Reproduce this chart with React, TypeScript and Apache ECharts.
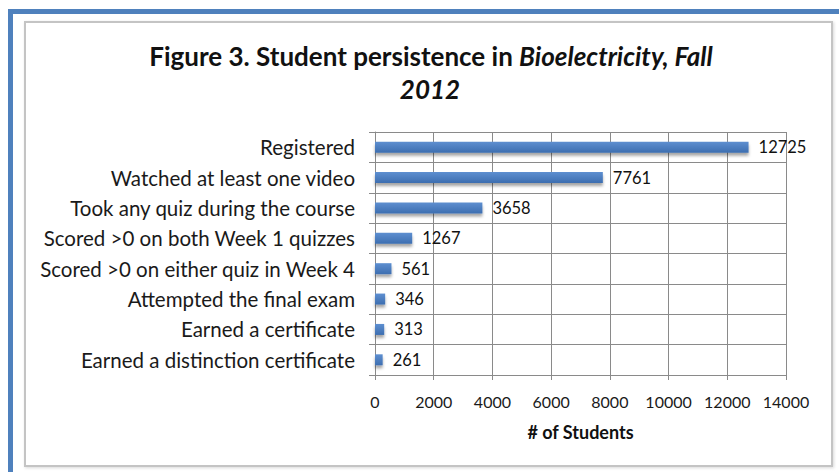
import React, { useEffect, useRef } from "react";
import * as echarts from "echarts";

const categories = [
  "Registered",
  "Watched at least one video",
  "Took any quiz during the course",
  "Scored >0 on both Week 1 quizzes",
  "Scored >0 on either quiz in Week 4",
  "Attempted the final exam",
  "Earned a certificate",
  "Earned a distinction certificate",
];
const students = [12725, 7761, 3658, 1267, 561, 346, 313, 261];
const xMin = 0;
const xMax = 14000;
const xStep = 2000;

const FONT = "Lato, 'Open Sans', sans-serif";

export default function App() {
  const ref = useRef<HTMLDivElement>(null);
  useEffect(() => {
    if (!ref.current) return;
    const chart = echarts.init(ref.current, null, { renderer: "svg" });
    chart.setOption({
      animation: false,
      backgroundColor: "#ffffff",
      textStyle: { fontFamily: FONT },
      graphic: [
        { type: "rect", shape: { x: 8, y: 9, width: 831, height: 5 }, style: { fill: "#4f81bd" }, z: 0 },
        { type: "rect", shape: { x: 8, y: 9, width: 5, height: 463 }, style: { fill: "#4f81bd" }, z: 0 },
        {
          type: "rect",
          shape: { x: 25, y: 22, width: 807, height: 444 },
          style: { fill: "#ffffff", stroke: "#c4c4c4", lineWidth: 2, shadowColor: "rgba(0,0,0,0.15)", shadowBlur: 3, shadowOffsetX: 1, shadowOffsetY: 1 },
          z: -1,
          silent: true,
        },
        {
          type: "text",
          x: 431,
          y: 56,
          style: {
            text: "{a|Figure 3. Student persistence in }{b|Bioelectricity, Fall}",
            align: "center",
            verticalAlign: "middle",
            rich: {
              a: { fontFamily: FONT, fontWeight: "bold", fontSize: 26, fill: "#111" },
              b: { fontFamily: FONT, fontWeight: "bold", fontStyle: "italic", fontSize: 26, fill: "#111" },
            },
          },
        },
        {
          type: "text",
          x: 430,
          y: 89,
          style: {
            text: "2012",
            align: "center",
            verticalAlign: "middle",
            fontFamily: FONT,
            fontWeight: "bold",
            fontStyle: "italic",
            fontSize: 26,
            fill: "#111",
          },
        },
      ],
      grid: { left: 375, right: 53, top: 132, bottom: 97, containLabel: false },
      xAxis: {
        type: "value",
        min: xMin,
        max: xMax,
        interval: xStep,
        name: "# of Students",
        nameLocation: "middle",
        nameGap: 48,
        nameTextStyle: { fontFamily: FONT, fontWeight: "bold", fontSize: 18, color: "#111" },
        axisLine: { show: true, lineStyle: { color: "#8a8a8a", width: 1 } },
        axisTick: { show: true, length: 5, lineStyle: { color: "#8a8a8a" } },
        axisLabel: {
          fontFamily: FONT,
          fontSize: 16,
          color: "#1a1a1a",
          margin: 18,
          formatter: (v: number) => String(v),
        },
        splitLine: { show: true, lineStyle: { color: "#8a8a8a", width: 1 } },
      },
      yAxis: {
        type: "category",
        inverse: true,
        data: categories,
        axisLine: { show: true, lineStyle: { color: "#8a8a8a", width: 1 } },
        axisTick: { show: true, length: 6, lineStyle: { color: "#8a8a8a" } },
        axisLabel: { fontFamily: FONT, fontSize: 20.5, color: "#1a1a1a", margin: 20 },
        splitLine: { show: true, lineStyle: { color: "#8a8a8a", width: 1 } },
      },
      series: [
        {
          type: "bar",
          data: students,
          barWidth: 11,
          itemStyle: {
            color: new echarts.graphic.LinearGradient(0, 0, 0, 1, [
              { offset: 0, color: "#5e8fd0" },
              { offset: 1, color: "#3d6eb0" },
            ]),
            shadowColor: "rgba(0,0,0,0.35)",
            shadowBlur: 3,
            shadowOffsetY: 3,
          },
          label: {
            show: true,
            position: "right",
            distance: 10,
            fontFamily: FONT,
            fontSize: 16.5,
            color: "#111",
          },
        },
      ],
    });
    return () => chart.dispose();
  }, []);
  return (
    <div style={{ position: "fixed", left: 0, top: 0, width: 839, height: 472, background: "#fff" }}>
      <div ref={ref} style={{ width: 839, height: 472 }} />
    </div>
  );
}
